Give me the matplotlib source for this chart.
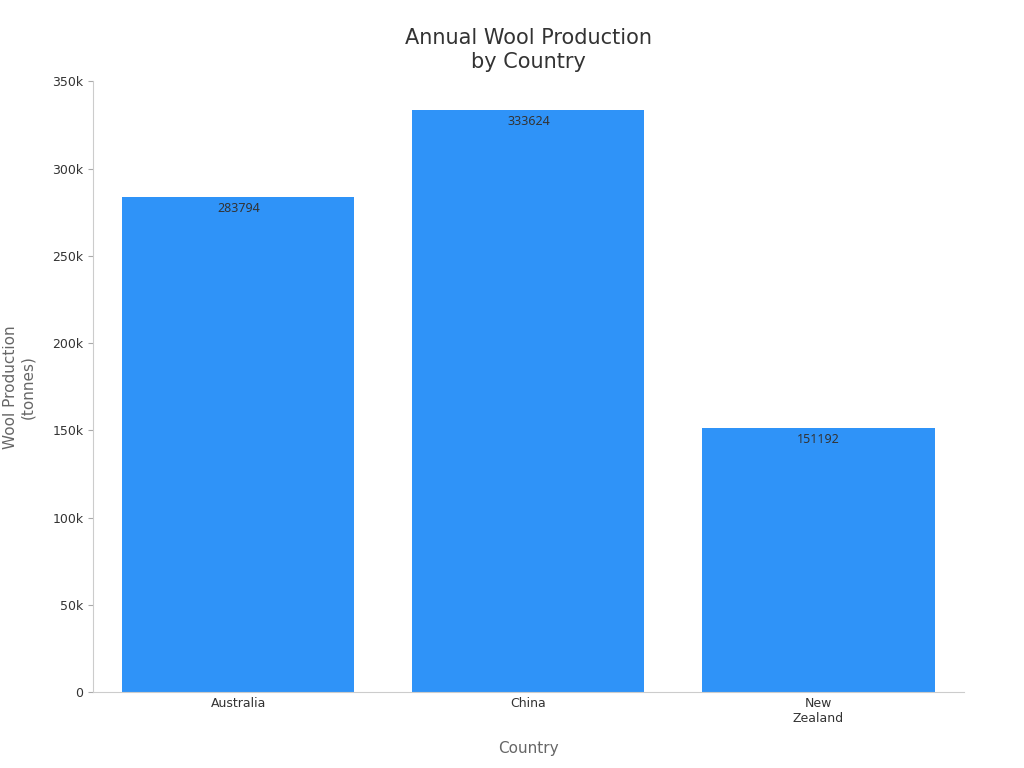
import matplotlib
matplotlib.use("Agg")
import matplotlib.pyplot as plt
from matplotlib.ticker import FuncFormatter

countries = ["Australia", "China", "New\nZealand"]
production = [283794, 333624, 151192]

fig = plt.figure(figsize=(10.24, 7.68), dpi=100)
ax = fig.add_axes([0.091, 0.099, 0.85, 0.795])
plt.rcParams["font.family"] = ["Noto Sans", "DejaVu Sans"]

bars = ax.bar(countries, production, width=0.8, color="#2f93f8")
for b, v in zip(bars, production):
    ax.text(b.get_x() + b.get_width() / 2, v - 3000, str(v), ha="center", va="top",
            fontsize=9, color="#333333")

ax.set_ylim(0, 350000)
ax.set_xlim(-0.5, 2.5)
ax.yaxis.set_major_formatter(FuncFormatter(lambda y, _: "0" if y == 0 else f"{int(y/1000)}k"))
ax.tick_params(axis="both", labelsize=9, colors="#333333")
ax.tick_params(axis="y", color="#aaaaaa")
ax.tick_params(axis="x", length=0)
for s in ["top", "right"]:
    ax.spines[s].set_visible(False)
for s in ["left", "bottom"]:
    ax.spines[s].set_color("#cccccc")

ax.set_title("Annual Wool Production\nby Country", fontsize=15, color="#333333", pad=10)
ax.set_xlabel("Country", fontsize=11, color="#666666", labelpad=12)
ax.set_ylabel("Wool Production\n(tonnes)", fontsize=11, color="#666666", labelpad=12)

fig.savefig("out.png", dpi=100)
